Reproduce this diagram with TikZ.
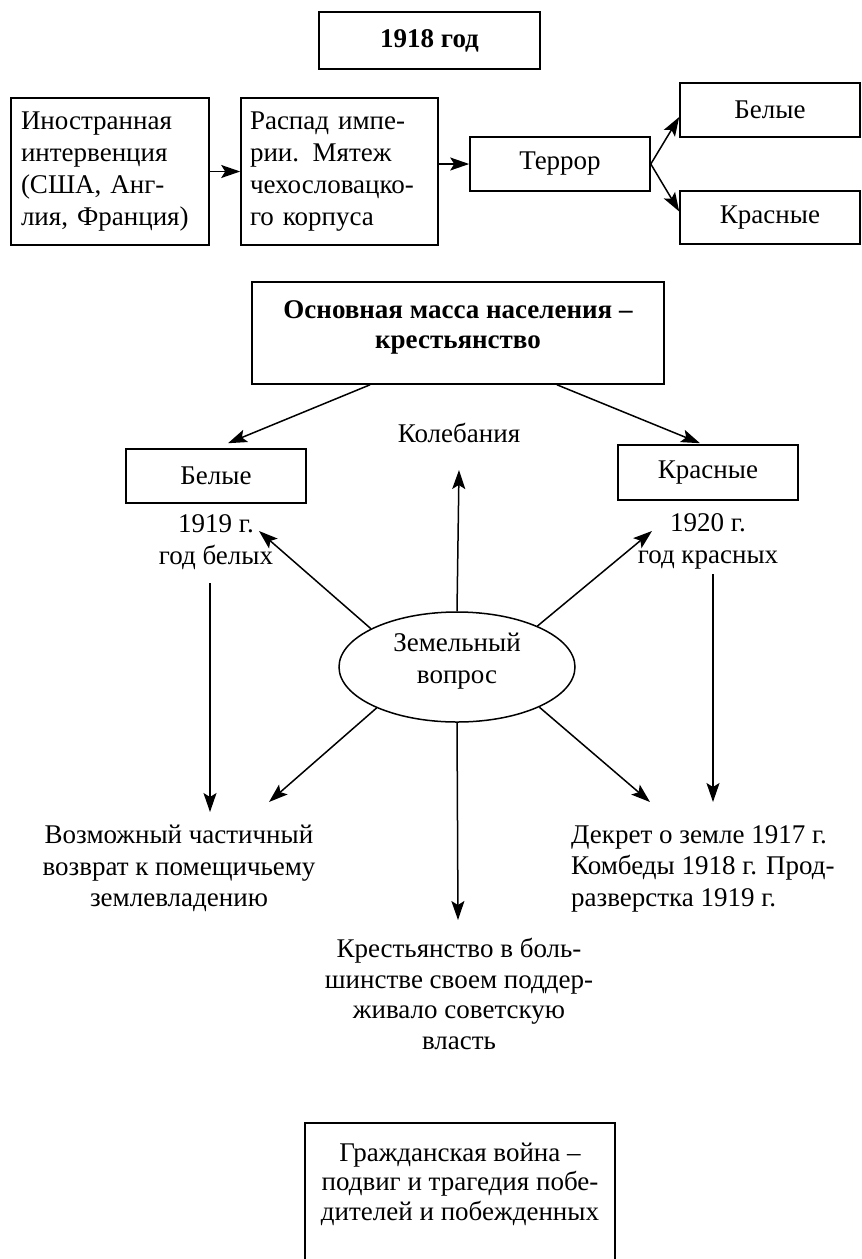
\documentclass[tikz,border=0pt]{standalone}
\usepackage{fontspec}
\setmainfont{Liberation Serif}
\usetikzlibrary{shapes.geometric,arrows.meta}
\begin{document}
\begin{tikzpicture}[x=1pt,y=-1pt,
  every node/.style={font=\fontsize{27}{32}\selectfont, inner sep=0pt},
  box/.style={draw, line width=1.6pt},
  bold/.style={font=\fontsize{27}{30}\selectfont\bfseries},
  txt/.style={align=center},
  arr/.style={line width=1.5pt, -{Stealth[length=19pt,width=13pt,inset=4pt]}},
]
\useasboundingbox (0,0) rectangle (862,1259);

% top part
\node[box, bold, minimum width=221pt, minimum height=57pt] (y1918) at (429.5,40.5) {1918 год};
\node[box, minimum width=198pt, minimum height=147pt, text width=178pt, inner xsep=10pt, align=left] (b1) at (110,171.5) {Иностранная\\интервенция\\(США, Анг-\\лия, Франция)};
\node[box, minimum width=197pt, minimum height=147pt, text width=179pt, inner xsep=9pt, align=left] (b2) at (339.5,171.5) {Распад импе-\\рии. Мятеж\\чехословацко-\\го корпуса};
\node[box, minimum width=180pt, minimum height=54pt] (terror) at (560,164) {Террор};
\node[box, minimum width=180pt, minimum height=54pt] (w1) at (770,110) {Белые};
\node[box, minimum width=180pt, minimum height=53pt] (r1) at (770,217.5) {Красные};

\draw[arr] (b1.east) -- (b2.west);
\draw[arr] (b2.east |- terror.west) -- (terror.west);
\draw[arr] (terror.east) -- ([yshift=-7pt]w1.west);
\draw[arr] (terror.east) -- ([yshift=6pt]r1.west);

% middle part
\node[box, minimum width=412pt, minimum height=102pt] (main) at (458,333) {};
\node[bold, txt] (maintext) at (458,327) {Основная масса населения –\\крестьянство};
\node[box, minimum width=180pt, minimum height=54pt] (w2) at (216,476) {Белые};
\node[box, minimum width=180pt, minimum height=55pt] (r2) at (708,472.5) {Красные};
\node (kol) at (459,433) {Колебания};
\node[txt] (t1919) at (216,542.5) {1919 г.\\год белых};
\node[txt] (t1920) at (708,541) {1920 г.\\год красных};
\node[draw, ellipse, line width=1.5pt, minimum width=236pt, minimum height=110pt] (land) at (457,667) {};
\node[txt] (landtext) at (457,661) {Земельный\\вопрос};

\node[txt, font=\fontsize{27}{31.5}\selectfont] (lefttext) at (179,868.5) {Возможный частичный\\возврат к помещичьему\\землевладению};
\node[align=left, anchor=west, font=\fontsize{27}{31.5}\selectfont] (righttext) at (571,868.5) {Декрет о земле 1917 г.\\Комбеды 1918 г. Прод-\\разверстка 1919 г.};
\node[txt, font=\fontsize{27}{30.7}\selectfont] (bottomtext) at (459,994) {Крестьянство в боль-\\шинстве своем поддер-\\живало советскую\\власть};

\draw[arr] ([xshift=-88pt]main.south) -- ([xshift=12pt,yshift=5pt]w2.north);
\draw[arr] ([xshift=99pt]main.south) -- ([xshift=-8pt,yshift=1pt]r2.north);

\coordinate (kolend) at (459,470);
\coordinate (tip19) at (259,531);
\coordinate (tip20) at (652,531);
\coordinate (wl1) at (210,583);
\coordinate (wl2) at (210,812);
\coordinate (rl1) at (713,574);
\coordinate (rl2) at (713,802);
\coordinate (tipL) at (269,802);
\coordinate (tipR) at (650,802);
\coordinate (tipD) at (458,920);

\draw[arr] (land.north) -- (kolend);
\draw[arr] (land.156) -- (tip19);
\draw[arr] (land.27) -- (tip20);
\draw[arr] (land.207) -- (tipL);
\draw[arr] (land.334) -- (tipR);
\draw[arr] (land.south) -- (tipD);
\draw[arr] (wl1) -- (wl2);
\draw[arr] (rl1) -- (rl2);

% final box
\coordinate (fb1) at (305,1262);
\coordinate (fb2) at (305,1123);
\coordinate (fb3) at (615,1123);
\coordinate (fb4) at (615,1262);
\draw[line width=1.6pt] (fb1) -- (fb2) -- (fb3) -- (fb4);
\node[txt, font=\fontsize{27}{29.5}\selectfont] (finaltext) at (460,1184) {Гражданская война –\\подвиг и трагедия побе-\\дителей и побежденных};
\end{tikzpicture}
\end{document}
